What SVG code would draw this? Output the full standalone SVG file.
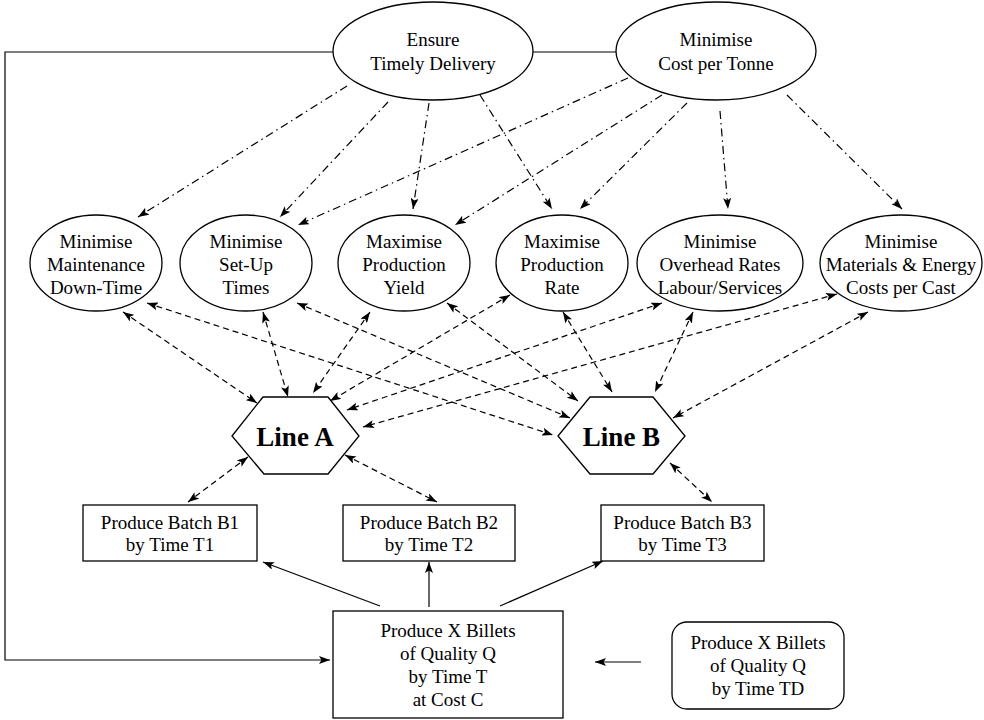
<svg xmlns="http://www.w3.org/2000/svg" width="984" height="720" viewBox="0 0 984 720">
  <style>
    .shape { fill: #fff; stroke: #000; stroke-width: 1.3; }
    .lbl { font-family: "Liberation Serif", "Times New Roman", serif; font-size: 19px; fill: #000; text-anchor: middle; }
    .big { font-family: "Liberation Serif", "Times New Roman", serif; font-size: 27px; font-weight: bold; fill: #000; text-anchor: middle; }
    .solid { fill: none; stroke: #000; stroke-width: 1.2; }
    .dash { fill: none; stroke: #000; stroke-width: 1.2; stroke-dasharray: 6 4; }
    .dashdot { fill: none; stroke: #000; stroke-width: 1.2; stroke-dasharray: 8 4 1.5 4; }
  </style>
  <defs>
    <marker id="arrow" markerUnits="userSpaceOnUse" markerWidth="11" markerHeight="8" refX="11" refY="4" orient="auto-start-reverse">
      <path d="M0,0 L11,4 L0,8 L2.5,4 Z" fill="#000"/>
    </marker>
  </defs>
  <rect width="984" height="720" fill="#fff"/>

  <!-- connectors -->
  <g id="connectors">
    <!-- feedback loop and link between top goals -->
    <polyline class="solid" points="333,52 5,52 5,660 330,660" marker-end="url(#arrow)"/>
    <line class="solid" x1="533" y1="52" x2="616" y2="52"/>

    <!-- Ensure Timely Delivery -> sub-goals -->
    <line class="dashdot" x1="347" y1="86" x2="138" y2="217" marker-end="url(#arrow)"/>
    <line class="dashdot" x1="388" y1="102" x2="280" y2="217" marker-end="url(#arrow)"/>
    <line class="dashdot" x1="429" y1="103" x2="413" y2="209" marker-end="url(#arrow)"/>
    <line class="dashdot" x1="480" y1="95" x2="552" y2="209" marker-end="url(#arrow)"/>

    <!-- Minimise Cost per Tonne -> sub-goals -->
    <line class="dashdot" x1="628" y1="78" x2="298" y2="225" marker-end="url(#arrow)"/>
    <line class="dashdot" x1="662" y1="95" x2="455" y2="225" marker-end="url(#arrow)"/>
    <line class="dashdot" x1="687" y1="103" x2="580" y2="209" marker-end="url(#arrow)"/>
    <line class="dashdot" x1="720" y1="111" x2="728" y2="209" marker-end="url(#arrow)"/>
    <line class="dashdot" x1="787" y1="95" x2="902" y2="209" marker-end="url(#arrow)"/>

    <!-- Line A <-> sub-goals -->
    <line class="dash" x1="123" y1="312" x2="257" y2="403" marker-start="url(#arrow)" marker-end="url(#arrow)"/>
    <line class="dash" x1="263" y1="312" x2="288" y2="397" marker-start="url(#arrow)" marker-end="url(#arrow)"/>
    <line class="dash" x1="370" y1="312" x2="313" y2="393" marker-start="url(#arrow)" marker-end="url(#arrow)"/>
    <line class="dash" x1="510" y1="295" x2="330" y2="401" marker-start="url(#arrow)" marker-end="url(#arrow)"/>
    <line class="dash" x1="662" y1="303" x2="347" y2="410" marker-start="url(#arrow)" marker-end="url(#arrow)"/>
    <line class="dash" x1="837" y1="294" x2="363" y2="427" marker-start="url(#arrow)" marker-end="url(#arrow)"/>

    <!-- Line B <-> sub-goals -->
    <line class="dash" x1="147" y1="303" x2="553" y2="435" marker-start="url(#arrow)" marker-end="url(#arrow)"/>
    <line class="dash" x1="297" y1="303" x2="570" y2="418" marker-start="url(#arrow)" marker-end="url(#arrow)"/>
    <line class="dash" x1="447" y1="303" x2="578" y2="401" marker-start="url(#arrow)" marker-end="url(#arrow)"/>
    <line class="dash" x1="563" y1="312" x2="612" y2="392" marker-start="url(#arrow)" marker-end="url(#arrow)"/>
    <line class="dash" x1="693" y1="312" x2="655" y2="392" marker-start="url(#arrow)" marker-end="url(#arrow)"/>
    <line class="dash" x1="868" y1="312" x2="673" y2="418" marker-start="url(#arrow)" marker-end="url(#arrow)"/>

    <!-- lines <-> batches -->
    <line class="dash" x1="248" y1="457" x2="188" y2="502" marker-start="url(#arrow)" marker-end="url(#arrow)"/>
    <line class="dash" x1="345" y1="455" x2="437" y2="502" marker-start="url(#arrow)" marker-end="url(#arrow)"/>
    <line class="dash" x1="670" y1="463" x2="712" y2="502" marker-start="url(#arrow)" marker-end="url(#arrow)"/>

    <!-- order -> batches -->
    <line class="solid" x1="380" y1="606" x2="263" y2="562" marker-end="url(#arrow)"/>
    <line class="solid" x1="429" y1="607" x2="429" y2="562" marker-end="url(#arrow)"/>
    <line class="solid" x1="500" y1="606" x2="603" y2="561" marker-end="url(#arrow)"/>

    <!-- customer order -> order -->
    <line class="solid" x1="641" y1="662" x2="595" y2="662" marker-end="url(#arrow)"/>
  </g>

  <!-- top goals -->
  <g id="ensure-timely-delivery">
    <ellipse class="shape" cx="433" cy="51" rx="100" ry="49"/>
    <text class="lbl" x="433" y="46">Ensure</text>
    <text class="lbl" x="433" y="70">Timely Delivery</text>
  </g>
  <g id="minimise-cost-per-tonne">
    <ellipse class="shape" cx="716" cy="51" rx="100" ry="49"/>
    <text class="lbl" x="716" y="46">Minimise</text>
    <text class="lbl" x="716" y="70">Cost per Tonne</text>
  </g>

  <!-- sub-goals -->
  <g id="min-maintenance">
    <ellipse class="shape" cx="96" cy="263" rx="66" ry="48"/>
    <text class="lbl" x="96" y="248">Minimise</text>
    <text class="lbl" x="96" y="271">Maintenance</text>
    <text class="lbl" x="96" y="294">Down-Time</text>
  </g>
  <g id="min-setup">
    <ellipse class="shape" cx="246" cy="263" rx="66" ry="48"/>
    <text class="lbl" x="246" y="248">Minimise</text>
    <text class="lbl" x="246" y="271">Set-Up</text>
    <text class="lbl" x="246" y="294">Times</text>
  </g>
  <g id="max-yield">
    <ellipse class="shape" cx="404" cy="263" rx="66" ry="48"/>
    <text class="lbl" x="404" y="248">Maximise</text>
    <text class="lbl" x="404" y="271">Production</text>
    <text class="lbl" x="404" y="294">Yield</text>
  </g>
  <g id="max-rate">
    <ellipse class="shape" cx="562" cy="263" rx="66" ry="48"/>
    <text class="lbl" x="562" y="248">Maximise</text>
    <text class="lbl" x="562" y="271">Production</text>
    <text class="lbl" x="562" y="294">Rate</text>
  </g>
  <g id="min-overhead">
    <ellipse class="shape" cx="720" cy="263" rx="83" ry="48"/>
    <text class="lbl" x="720" y="248">Minimise</text>
    <text class="lbl" x="720" y="271">Overhead Rates</text>
    <text class="lbl" x="720" y="294">Labour/Services</text>
  </g>
  <g id="min-materials">
    <ellipse class="shape" cx="901" cy="263" rx="81" ry="48"/>
    <text class="lbl" x="901" y="248">Minimise</text>
    <text class="lbl" x="901" y="271">Materials &amp; Energy</text>
    <text class="lbl" x="901" y="294">Costs per Cast</text>
  </g>

  <!-- production lines -->
  <g id="line-a">
    <polygon class="shape" points="232,436 263,397 328,397 359,436 328,474 264,474"/>
    <text class="big" x="295" y="446">Line A</text>
  </g>
  <g id="line-b">
    <polygon class="shape" points="558,436 590,397 653,397 685,436 653,474 590,474"/>
    <text class="big" x="621.5" y="446">Line B</text>
  </g>

  <!-- batches -->
  <g id="batch-b1">
    <rect class="shape" x="83" y="505" width="174" height="56"/>
    <text class="lbl" x="170" y="529">Produce Batch B1</text>
    <text class="lbl" x="170" y="551">by Time T1</text>
  </g>
  <g id="batch-b2">
    <rect class="shape" x="343" y="505" width="172" height="56"/>
    <text class="lbl" x="429" y="529">Produce Batch B2</text>
    <text class="lbl" x="429" y="551">by Time T2</text>
  </g>
  <g id="batch-b3">
    <rect class="shape" x="601" y="505" width="163" height="56"/>
    <text class="lbl" x="682.5" y="529">Produce Batch B3</text>
    <text class="lbl" x="682.5" y="551">by Time T3</text>
  </g>

  <!-- order -->
  <g id="order">
    <rect class="shape" x="333" y="611" width="230" height="107"/>
    <text class="lbl" x="448" y="637">Produce X Billets</text>
    <text class="lbl" x="448" y="660">of Quality Q</text>
    <text class="lbl" x="448" y="683">by Time T</text>
    <text class="lbl" x="448" y="706">at Cost C</text>
  </g>
  <g id="customer-order">
    <rect class="shape" x="672" y="622" width="172" height="87" rx="15" ry="15"/>
    <text class="lbl" x="758" y="649">Produce X Billets</text>
    <text class="lbl" x="758" y="672">of Quality Q</text>
    <text class="lbl" x="758" y="695">by Time TD</text>
  </g>
</svg>
